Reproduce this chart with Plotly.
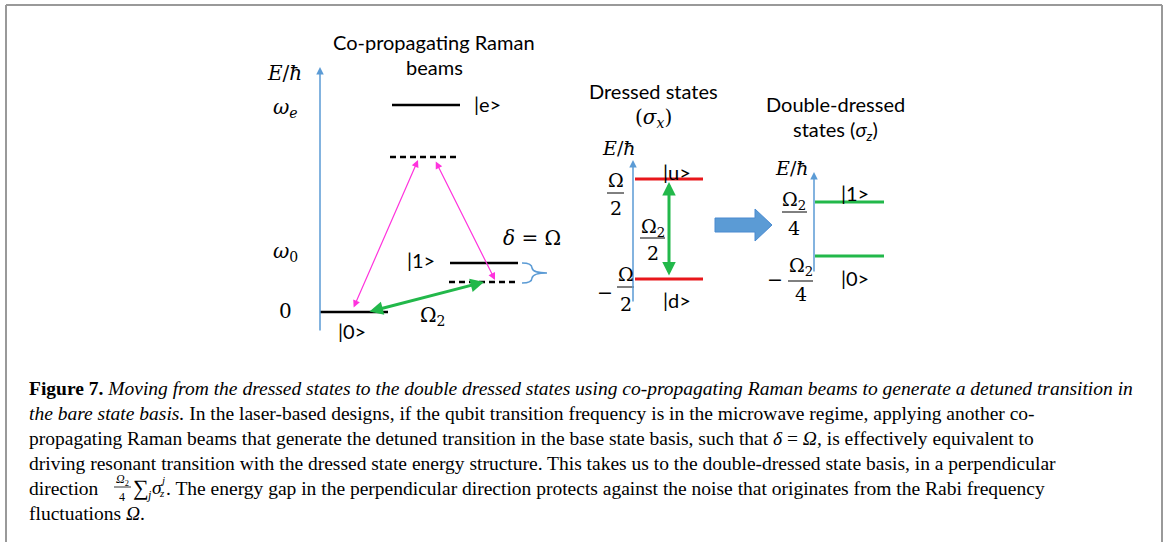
import plotly.graph_objects as go

W, H = 1166, 542

# ---------------- data ----------------
# left panel: bare levels (x0, x1, y, style)
bare_names = ["|e>", "virtual", "|1>", "detuned", "|0>"]
bare_x0 = [392, 390, 450, 449, 320]
bare_x1 = [460, 460, 518, 517, 388]
bare_y = [105, 157, 263, 282, 312]
bare_dash = ["solid", "dash", "solid", "dash", "solid"]
bare_labels = ["|e>", "|1>", "|0>"]
bare_label_x = [487, 421, 352]
bare_label_y = [104, 260, 331]
axis_ticks_left = ["<i>ω</i><sub><i>e</i></sub>", "<i>ω</i><sub>0</sub>", "0"]
axis_ticks_left_y = [108, 252, 311]

# dressed panel
dressed_y = [179, 279]
dressed_names = ["|u>", "|d>"]
dressed_label_y = [172, 300]

# double dressed panel
dd_y = [202, 256]
dd_names = ["|1>", "|0>"]
dd_label_y = [193, 278]

caption_lines = [
    "<b>Figure 7.</b> <i>Moving from the dressed states to the double dressed states using co-propagating Raman beams to generate a detuned transition in</i>",
    "<i>the bare state basis.</i> In the laser-based designs, if the qubit transition frequency is in the microwave regime, applying another co-",
    "propagating Raman beams that generate the detuned transition in the base state basis, such that <i>δ</i> = <i>Ω</i>, is effectively equivalent to",
    "driving resonant transition with the dressed state energy structure. This takes us to the double-dressed state basis, in a perpendicular",
    None,
    "fluctuations <i>Ω</i>.",
]
caption_y = [388, 413, 438, 463, 488, 513]

BLUE = "#5b9bd5"
PINK = "#ff33dd"
GREEN = "#22b84a"
RED = "#e8161b"
SANS = "Lato, Open Sans, sans-serif"
SERIF = "Liberation Serif, serif"
MATH = "DejaVu Serif, serif"

fig = go.Figure()
shapes = []
ann = []


def text(x, y, s, size=18, family=SANS, color="black", xanchor="center", yanchor="middle"):
    ann.append(dict(x=x, y=y, text=s, showarrow=False, xref="x", yref="y",
                    font=dict(size=size, family=family, color=color),
                    xanchor=xanchor, yanchor=yanchor))


def line(x0, y0, x1, y1, color="black", width=2, dash="solid"):
    shapes.append(dict(type="line", x0=x0, y0=y0, x1=x1, y1=y1, xref="x", yref="y",
                       line=dict(color=color, width=width, dash=dash)))


def arrow(x, y, ax, ay, color, width, both=False, head=2, size=1.0):
    ann.append(dict(x=x, y=y, ax=ax, ay=ay, xref="x", yref="y", axref="x", ayref="y",
                    text="", showarrow=True, arrowcolor=color, arrowwidth=width,
                    arrowhead=head, startarrowhead=head, arrowsize=size, startarrowsize=size,
                    arrowside="end+start" if both else "end"))


# border
line(6, 5, 1162, 5, "#999999", 2)
line(6, 5, 6, 542, "#999999", 2)
line(1162, 5, 1162, 542, "#999999", 2)

# ---------- left panel ----------
text(434, 42, "Co-propagating Raman", 20)
text(434, 67, "beams", 20)
arrow(320, 67, 320, 332, BLUE, 1.5, head=2, size=1)
text(284, 73, "<i>E</i>/<i>ħ</i>", 20, MATH)
for s, yy in zip(axis_ticks_left, axis_ticks_left_y):
    text(285, yy, s, 20, MATH)
for x0, x1, yy, d in zip(bare_x0, bare_x1, bare_y, bare_dash):
    line(x0, yy, x1, yy, "black", 2.5, "6px,4px" if d == "dash" else "solid")
for s, xx, yy in zip(bare_labels, bare_label_x, bare_label_y):
    text(xx, yy, s, 20)

# pink Raman arrows
arrow(418, 160, 353, 309, PINK, 1.2, both=True, head=2, size=1.2)
arrow(495, 280, 435, 160, PINK, 1.2, both=True, head=2, size=1.2)
# green Omega2 arrow
arrow(484, 282, 368, 312, GREEN, 3, both=True, head=2, size=0.9)
text(433, 316, "Ω<sub>2</sub>", 20, MATH)
text(532, 238, "<i>δ</i> = Ω", 20, MATH)
# brace
shapes.append(dict(type="path", xref="x", yref="y",
                   path="M 522 263 Q 532 263 532 268 Q 533 273 547 273 M 522 283 Q 532 283 532 278 Q 533 273 547 273",
                   line=dict(color=BLUE, width=1.5)))

# ---------- dressed panel ----------
text(653, 91, "Dressed states", 20)
text(653, 118, "(<i>σ</i><sub><i>x</i></sub>)", 20, MATH)
text(619, 148, "<i>E</i>/<i>ħ</i>", 19, MATH)
arrow(633, 160, 633, 303, BLUE, 1.5, head=2, size=1)
for yy in dressed_y:
    line(635, yy, 703, yy, RED, 3)
for s, yy in zip(dressed_names, dressed_label_y):
    text(677, yy, s, 20)
arrow(669, 182, 669, 277, GREEN, 3, both=True, head=2, size=0.9)
# fractions
text(616, 180, "Ω", 19, MATH)
line(607, 193, 624, 193, "black", 1)
text(616, 208, "2", 19, MATH)
text(605, 292, "−", 19, MATH)
text(626, 274, "Ω", 19, MATH)
line(617, 287, 634, 287, "black", 1)
text(626, 304, "2", 19, MATH)
text(653, 227, "Ω<sub>2</sub>", 19, MATH)
line(640, 238, 665, 238, "black", 1)
text(653, 253, "2", 19, MATH)

# big arrow
shapes.append(dict(type="path", xref="x", yref="y",
                   path="M 715 218 L 755 218 L 755 209 L 772 225 L 755 241 L 755 232 L 715 232 Z",
                   fillcolor="#5b9bd5", line=dict(color="#4a8ad0", width=1)))

# ---------- double dressed panel ----------
text(835, 104, "Double-dressed", 20)
text(835, 130, "states (<i>σ</i><sub><i>z</i></sub>)", 20)
text(792, 168, "<i>E</i>/<i>ħ</i>", 19, MATH)
arrow(814, 172, 814, 273, BLUE, 1.5, head=2, size=1)
for yy in dd_y:
    line(815, yy, 884, yy, GREEN, 3)
for s, yy in zip(dd_names, dd_label_y):
    text(855, yy, s, 20)
text(794, 200, "Ω<sub>2</sub>", 19, MATH)
line(782, 212, 807, 212, "black", 1)
text(794, 228, "4", 19, MATH)
text(775, 279, "−", 19, MATH)
text(801, 266, "Ω<sub>2</sub>", 19, MATH)
line(788, 281, 813, 281, "black", 1)
text(801, 294, "4", 19, MATH)

# ---------- caption ----------
CAP = 19.5
for s, yy in zip(caption_lines, caption_y):
    if s is not None:
        text(27, yy, s, CAP, SERIF, xanchor="left")
# line 5 with small fraction and sum
text(27, 488, "direction", CAP, SERIF, xanchor="left")
text(122, 480, "<i>Ω</i><sub>2</sub>", 12, SERIF)
line(114, 487, 131, 487, "black", 0.8)
text(122, 497, "4", 12, SERIF)
text(141, 487, "∑", 22, SERIF)
text(149, 495, "<i>j</i>", 12, SERIF)
text(157, 487, "<i>σ</i>", CAP, SERIF)
text(162, 480, "<i>j</i>", 11, SERIF)
text(162, 493, "<i>z</i>", 11, SERIF)
text(164, 488, ". The energy gap in the perpendicular direction protects against the noise that originates from the Rabi frequency",
     CAP, SERIF, xanchor="left")

fig.update_layout(
    width=W, height=H, margin=dict(l=0, r=0, t=0, b=0),
    paper_bgcolor="white", plot_bgcolor="white",
    xaxis=dict(range=[0, W], visible=False, fixedrange=True),
    yaxis=dict(range=[H, 0], visible=False, fixedrange=True),
    shapes=shapes, annotations=ann, showlegend=False,
)
fig.write_html("out.html", config={"displayModeBar": False},
               post_script="document.body.style.margin='0px';document.body.style.overflow='hidden';")
